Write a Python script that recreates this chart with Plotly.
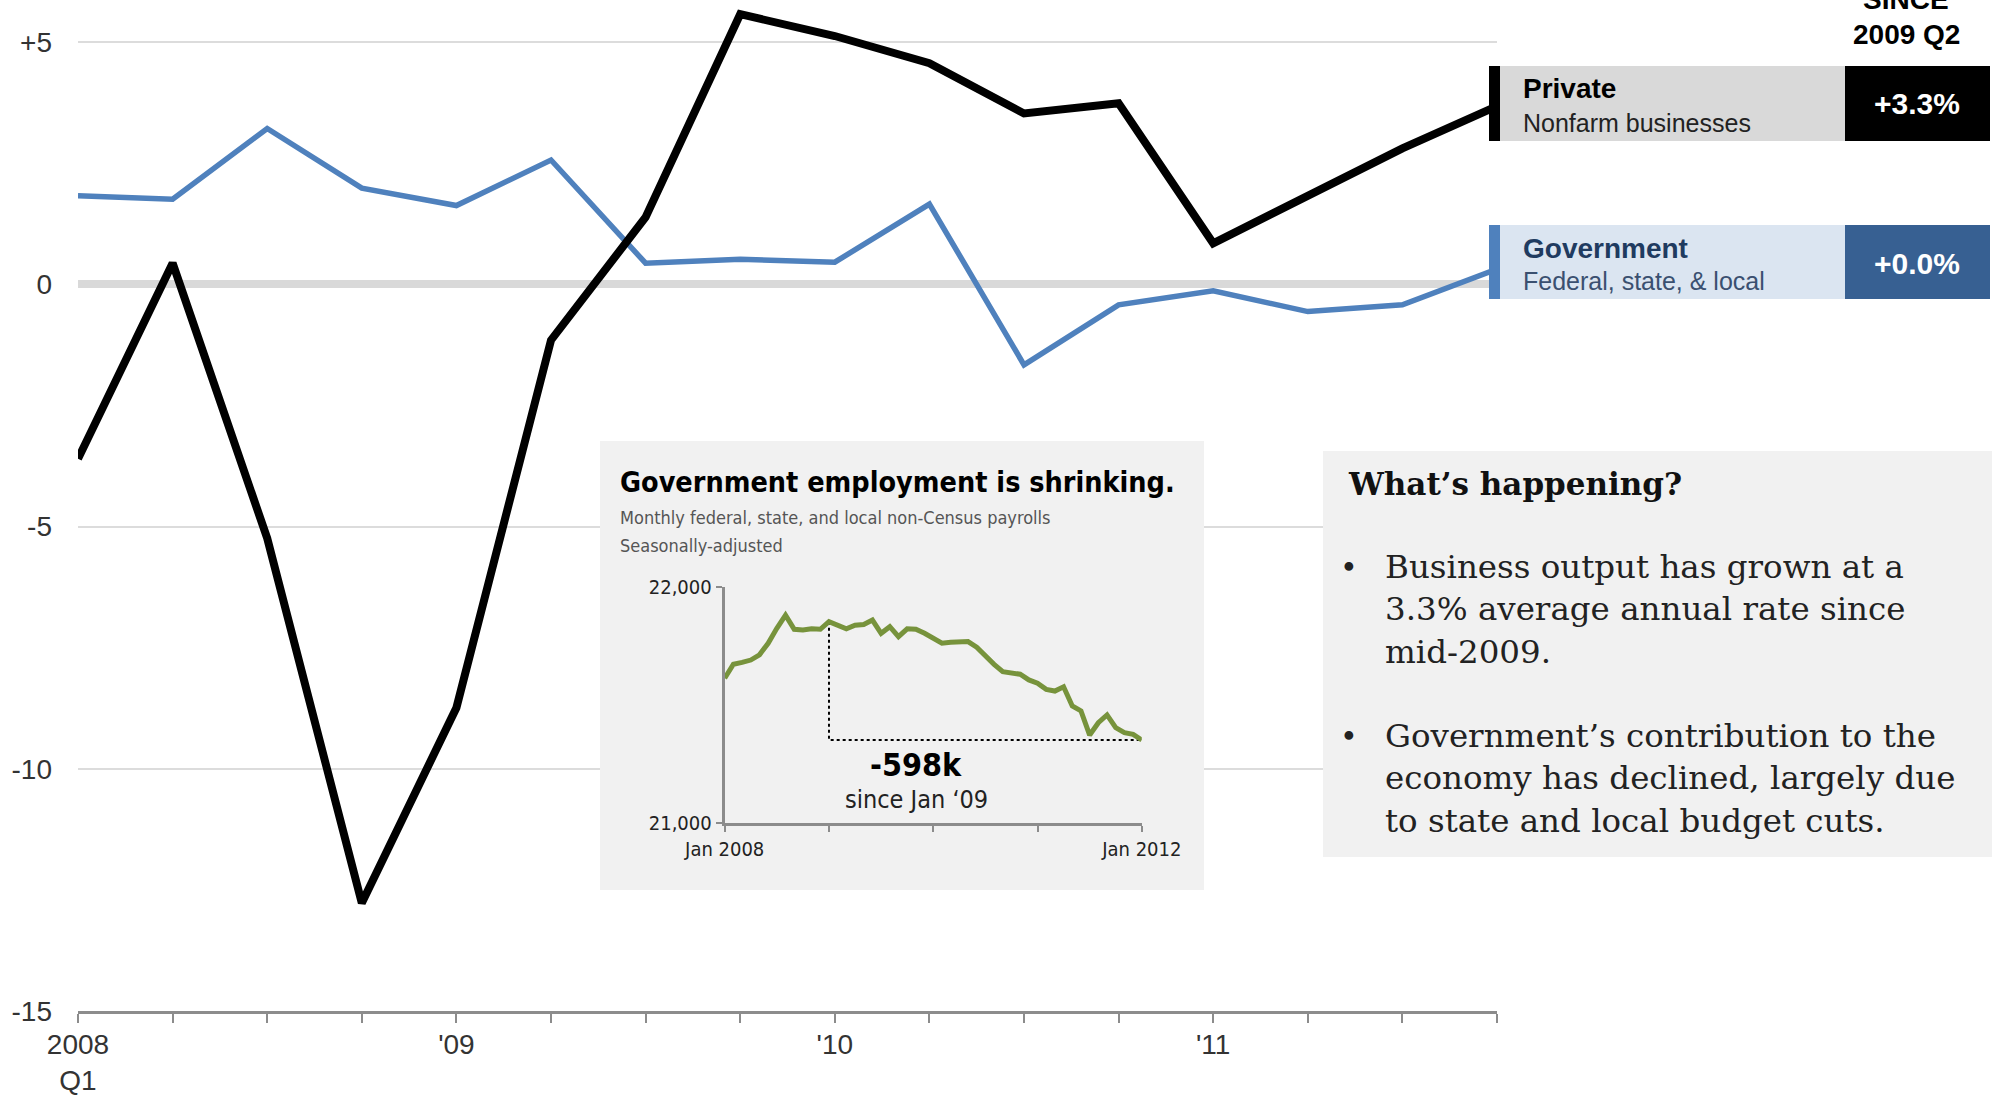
import plotly.graph_objects as go

W, H = 2009, 1097

# ---- main chart data: quarterly change in output, 2008 Q1 - 2011 Q4 ----
quarters = list(range(16))
quarter_ticktext = ["2008<br>Q1", "", "", "", "'09", "", "", "", "'10", "", "", "",
                    "'11", "", "", ""]
private_output = [-3.6, 0.44, -5.24, -12.77, -8.74, -1.15, 1.39, 5.58,
                  5.13, 4.57, 3.53, 3.74, 0.85, 1.85, 2.81, 3.68]
government_output = [1.83, 1.76, 3.22, 1.99, 1.63, 2.57, 0.44, 0.52,
                      0.46, 1.66, -1.66, -0.42, -0.13, -0.56, -0.42, 0.32]
y_tickvals = [-15, -10, -5, 0, 5]
y_ticktext = ["-15", "-10", "-5", "0", "+5"]

# ---- inset data: monthly government payrolls (thousands), Jan 2008 - Jan 2012 ----
months = list(range(49))
gov_payrolls = [21613, 21672, 21680, 21690, 21712, 21761, 21824, 21880, 21820, 21817,
                21822, 21820, 21852, 21835, 21822, 21837, 21840, 21859, 21803, 21831,
                21789, 21822, 21820, 21803, 21782, 21761, 21765, 21768, 21768, 21744,
                21707, 21672, 21641, 21634, 21630, 21606, 21592, 21566, 21559, 21577,
                21496, 21475, 21373, 21425, 21458, 21404, 21383, 21376, 21352]
payroll_tickvals = [21000, 22000]
payroll_ticktext = ["21,000", "22,000"]
month_tickvals = [0, 12, 24, 36, 48]
month_ticktext = ["Jan 2008", "", "", "", "Jan 2012"]
since_month = 12

# ---- layout geometry (pixels) ----
PLOT_L, PLOT_R, PLOT_B = 78, 1497, 1011
UNIT = 48.435  # pixels per percentage point
Y_RANGE = [-15, -15 + PLOT_B / UNIT]
INSET_L, INSET_R, INSET_T, INSET_B = 724.7, 1141.8, 586.7, 823.3

SANS = "Liberation Sans, Arial, sans-serif"
NARROW = "Liberation Sans Narrow, DejaVu Sans Condensed, Liberation Sans, sans-serif"
SERIF = "DejaVu Serif, Liberation Serif, serif"


def px(x):
    return x / W


def py(y):
    return 1 - y / H


def data_x(x):
    return (x - PLOT_L) / ((PLOT_R - PLOT_L) / 15)


def data_y(y):
    return Y_RANGE[1] - y / UNIT


fig = go.Figure()

fig.add_trace(go.Scatter(x=quarters, y=government_output, mode="lines",
                         line=dict(color="#4f81bd", width=5.5), hoverinfo="skip"))
fig.add_trace(go.Scatter(x=quarters, y=private_output, mode="lines",
                         line=dict(color="#000000", width=8), hoverinfo="skip"))

# inset: dotted bracket from Jan '09 to the latest month, then the payroll line
fig.add_trace(go.Scatter(x=[since_month, since_month, months[-1]],
                         y=[gov_payrolls[since_month], gov_payrolls[-1], gov_payrolls[-1]],
                         mode="lines", line=dict(color="#000000", width=2, dash="dot"),
                         xaxis="x2", yaxis="y2", hoverinfo="skip"))
fig.add_trace(go.Scatter(x=months, y=gov_payrolls, mode="lines",
                         line=dict(color="#77933c", width=5),
                         xaxis="x2", yaxis="y2", hoverinfo="skip"))

shapes = []


def rect(x0, y0, x1, y1, color, layer="above"):
    shapes.append(dict(type="rect", xref="paper", yref="paper",
                       x0=px(x0), x1=px(x1), y0=py(y1), y1=py(y0),
                       fillcolor=color, line=dict(width=0), layer=layer))


# inset panel sits above the gridlines but below all traces
shapes.append(dict(type="rect", xref="x", yref="y",
                   x0=data_x(600), x1=data_x(1204), y0=data_y(890), y1=data_y(441),
                   fillcolor="#f1f1f1", line=dict(width=0), layer="between"))

# side panel
rect(1323, 451, 1992, 857, "#f1f1f1")

# end-of-line labels
rect(1489, 66, 1500, 141, "#000000")
rect(1500, 66, 1845, 141, "#d9d9d9")
rect(1845, 66, 1990, 141, "#000000")
rect(1489, 225, 1500, 299, "#4f81bd")
rect(1500, 225, 1845, 299, "#dbe5f1")
rect(1845, 225, 1990, 299, "#376092")

annotations = []


def text(x, y, s, size, color="#222222", family=SANS, bold=False,
         xanchor="left", yanchor="middle", align="left"):
    annotations.append(dict(x=px(x), y=py(y), xref="paper", yref="paper", text=s,
                            showarrow=False, xanchor=xanchor, yanchor=yanchor, align=align,
                            font=dict(size=size, color=color, family=family,
                                      weight="bold" if bold else "normal")))


text(1906, -1, "SINCE", 28, "#000000", bold=True, xanchor="center", align="center")
text(1906, 35, "2009 Q2", 28, "#000000", bold=True, xanchor="center", align="center")

text(1521, 88, "Private", 28, "#000000", bold=True)
text(1521, 123, "Nonfarm businesses", 25, "#222222")
text(1917, 104, "+3.3%", 30, "#ffffff", bold=True, xanchor="center", align="center")
text(1521, 248, "Government", 28, "#1f3b60", bold=True)
text(1521, 281, "Federal, state, &amp; local", 25, "#3a5070")
text(1917, 263, "+0.0%", 30, "#ffffff", bold=True, xanchor="center", align="center")

text(1346, 484, "What\u2019s happening?", 31, "#111111", family=SERIF, bold=True)
text(1349, 567, "\u2022", 30, "#222222", family=SERIF, xanchor="center", align="center")
text(1383, 610, "Business output has grown at a<br>3.3% average annual rate since<br>mid-2009.",
     32.5, "#222222", family=SERIF)
text(1349, 736, "\u2022", 30, "#222222", family=SERIF, xanchor="center", align="center")
text(1383, 778, "Government\u2019s contribution to the<br>economy has declined, largely due<br>"
     "to state and local budget cuts.", 32.5, "#222222", family=SERIF)

text(618, 482, "Government employment is shrinking.", 28.5, "#000000", family=NARROW, bold=True)
text(618, 517, "Monthly federal, state, and local non-Census payrolls", 18, "#555555", family=NARROW)
text(618, 545, "Seasonally-adjusted", 18, "#555555", family=NARROW)
text(916, 765, "-598k", 32, "#000000", family=NARROW, bold=True, xanchor="center", align="center")
text(916, 799, "since Jan \u201809", 25, "#222222", family=NARROW, xanchor="center", align="center")

fig.update_layout(
    width=W, height=H,
    margin=dict(l=0, r=0, t=0, b=0),
    paper_bgcolor="#ffffff", plot_bgcolor="rgba(0,0,0,0)",
    showlegend=False,
    shapes=shapes, annotations=annotations,
    xaxis=dict(domain=[px(PLOT_L), px(PLOT_R)], range=[0, 15],
               tickvals=quarters, ticktext=quarter_ticktext,
               ticks="outside", ticklen=9, tickwidth=2, tickcolor="#8c8c8c",
               showline=True, linecolor="#8c8c8c", linewidth=3,
               showgrid=False, zeroline=False, automargin=False, ticklabelstandoff=-3,
               tickfont=dict(family=SANS, size=28, color="#333333")),
    yaxis=dict(domain=[py(PLOT_B), 1], range=Y_RANGE,
               tickvals=y_tickvals, ticktext=y_ticktext, ticks="",
               showgrid=True, gridcolor="#dcdcdc", gridwidth=2,
               zeroline=True, zerolinecolor="#d9d9d9", zerolinewidth=8,
               showline=False, automargin=False, ticklabelstandoff=25,
               tickfont=dict(family=SANS, size=28, color="#333333")),
    xaxis2=dict(domain=[px(INSET_L), px(INSET_R)], range=[0, 48], anchor="y2",
                tickvals=month_tickvals, ticktext=month_ticktext,
                ticks="outside", ticklen=6, tickwidth=2, tickcolor="#8c8c8c",
                showline=True, linecolor="#8c8c8c", linewidth=3,
                showgrid=False, zeroline=False, automargin=False,
                tickfont=dict(family=NARROW, size=20, color="#222222")),
    yaxis2=dict(domain=[py(INSET_B), py(INSET_T)], range=[21000, 22000], anchor="x2",
                tickvals=payroll_tickvals, ticktext=payroll_ticktext,
                ticks="outside", ticklen=6, tickwidth=2, tickcolor="#8c8c8c",
                showline=True, linecolor="#8c8c8c", linewidth=3,
                showgrid=False, zeroline=False, automargin=False,
                tickfont=dict(family=NARROW, size=20, color="#222222")),
)

fig.write_html("out.html")
